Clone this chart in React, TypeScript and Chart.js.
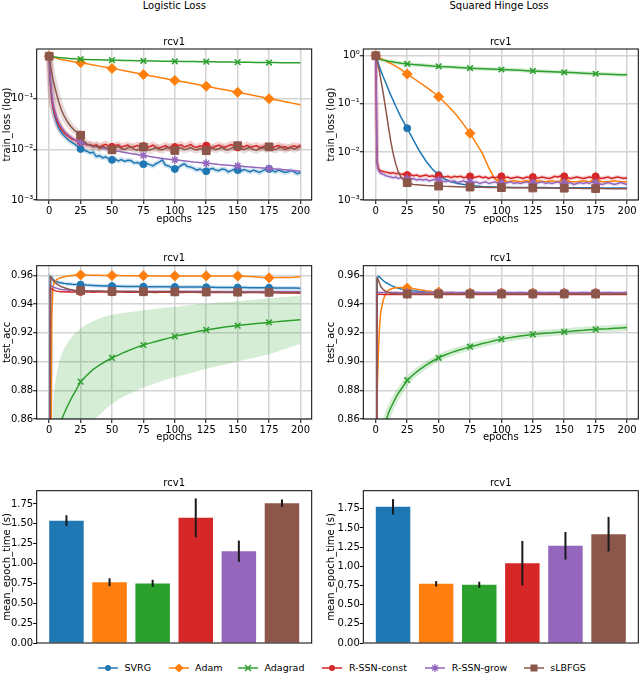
import React, { useEffect, useRef } from "react";
import { Chart, registerables } from "chart.js";
Chart.register(...registerables);

const FONT = "'DejaVu Sans', 'Liberation Sans', sans-serif";
Chart.defaults.font.family = FONT;
Chart.defaults.font.size = 10;
Chart.defaults.color = "#000";

// ---------------- data ----------------
const SERIES = ["SVRG", "Adam", "Adagrad", "R-SSN-const", "R-SSN-grow", "sLBFGS"];

// smooth-curve epochs
const SX = [0, 1, 2, 3, 4, 6, 8, 10, 12, 14, 16, 18, 20,
  25, 30, 35, 40, 45, 50, 55, 60,
  65, 70, 75, 80, 85, 90, 95, 100,
  105, 110, 115, 120, 125, 130, 135, 140,
  145, 150, 155, 160, 165, 170, 175, 180,
  185, 190, 195, 200];
// noisy-curve epochs
const NX = [0, 1, 2, 3, 4, 6, 8, 10, 12, 14, 16, 18, 20,
  22.5, 25, 27.5, 30, 32.5, 35, 37.5, 40,
  42.5, 45, 47.5, 50, 52.5, 55, 57.5, 60,
  62.5, 65, 67.5, 70, 72.5, 75, 77.5, 80,
  82.5, 85, 87.5, 90, 92.5, 95, 97.5, 100,
  102.5, 105, 107.5, 110, 112.5, 115, 117.5, 120,
  122.5, 125, 127.5, 130, 132.5, 135, 137.5, 140,
  142.5, 145, 147.5, 150, 152.5, 155, 157.5, 160,
  162.5, 165, 167.5, 170, 172.5, 175, 177.5, 180,
  182.5, 185, 187.5, 190, 192.5, 195, 197.5, 200];

// Logistic loss: train loss
const TL_SVRG = [0.69, 0.2, 0.1, 0.065, 0.05, 0.033, 0.025, 0.021, 0.0185, 0.0165, 0.0148, 0.0138, 0.0128,
  0.0115, 0.0102, 0.0097, 0.0092, 0.0085, 0.0088, 0.0072, 0.0075,
  0.0068, 0.0071, 0.0064, 0.0062, 0.0064, 0.0059, 0.0063, 0.0058,
  0.0061, 0.0060, 0.0054, 0.0055, 0.0052, 0.0051, 0.0053, 0.0050,
  0.0047, 0.0052, 0.0056, 0.0062, 0.0049, 0.0047, 0.0043, 0.0041,
  0.0043, 0.0048, 0.0052, 0.0046, 0.0045, 0.0042, 0.0039, 0.0041,
  0.0038, 0.0037, 0.0040, 0.0042, 0.0039, 0.0038, 0.0041, 0.0040,
  0.0036, 0.0038, 0.0041, 0.0039, 0.0037, 0.0040, 0.0038, 0.0036,
  0.0039, 0.0037, 0.0035, 0.0038, 0.0040, 0.0041, 0.0038, 0.0036,
  0.0039, 0.0037, 0.0035, 0.0036, 0.0038, 0.0036, 0.0033, 0.0035];
const TL_ADAM = [0.69, 0.68, 0.67, 0.66, 0.65, 0.63, 0.61, 0.59, 0.58, 0.565, 0.555, 0.545, 0.535,
  0.515, 0.49, 0.465, 0.44, 0.417, 0.395, 0.375, 0.355,
  0.337, 0.318, 0.30, 0.285, 0.27, 0.256, 0.243, 0.23,
  0.219, 0.208, 0.197, 0.186, 0.176, 0.167, 0.158, 0.15,
  0.142, 0.134, 0.127, 0.12, 0.113, 0.107, 0.1, 0.095,
  0.09, 0.085, 0.08, 0.076];
const TL_ADAGRAD = [0.69, 0.68, 0.675, 0.67, 0.665, 0.655, 0.645, 0.64, 0.635, 0.628, 0.622, 0.617, 0.612,
  0.602, 0.595, 0.59, 0.585, 0.58, 0.576, 0.572, 0.569,
  0.566, 0.563, 0.56, 0.557, 0.554, 0.551, 0.549, 0.547,
  0.545, 0.543, 0.541, 0.539, 0.537, 0.535, 0.533, 0.531,
  0.529, 0.527, 0.525, 0.523, 0.521, 0.519, 0.517, 0.516,
  0.514, 0.513, 0.511, 0.51];
const TL_RSSN_CONST = [0.69, 0.19, 0.1, 0.07, 0.055, 0.038, 0.029, 0.024, 0.021, 0.019, 0.0175, 0.016, 0.0152,
  0.0145, 0.014, 0.0128, 0.0122, 0.0125, 0.0118, 0.0123, 0.0112,
  0.0119, 0.0126, 0.0115, 0.0112, 0.0118, 0.0123, 0.0110, 0.0117,
  0.0121, 0.0109, 0.0113, 0.0120, 0.0111, 0.0116, 0.0108, 0.0114,
  0.0121, 0.0110, 0.0105, 0.0112, 0.0119, 0.0107, 0.0114, 0.0111,
  0.0118, 0.0123, 0.0112, 0.0116, 0.0125, 0.0113, 0.0109, 0.0117,
  0.0112, 0.0119, 0.0114, 0.0108, 0.0115, 0.0121, 0.0113, 0.0110,
  0.0118, 0.0124, 0.0113, 0.0109, 0.0115, 0.0112, 0.0120, 0.0110,
  0.0114, 0.0119, 0.0108, 0.0113, 0.0117, 0.0111, 0.0106, 0.0114,
  0.0119, 0.0109, 0.0113, 0.0106, 0.0112, 0.0118, 0.0110, 0.0123];
const TL_RSSN_GROW = [0.69, 0.25, 0.13, 0.085, 0.065, 0.043, 0.033, 0.027, 0.023, 0.0205, 0.0185, 0.017, 0.0158,
  0.0138, 0.0125, 0.0115, 0.0108, 0.0102, 0.0097, 0.0092, 0.0087,
  0.0083, 0.0079, 0.0076, 0.0072, 0.0069, 0.0066, 0.0064, 0.0062,
  0.0060, 0.0058, 0.0056, 0.0055, 0.0053, 0.0052, 0.0050, 0.0049,
  0.0048, 0.0047, 0.0046, 0.0045, 0.0044, 0.0043, 0.0042, 0.0041,
  0.0040, 0.0039, 0.0038, 0.0037];
const TL_SLBFGS = [0.69, 0.45, 0.32, 0.24, 0.19, 0.12, 0.08, 0.058, 0.045, 0.037, 0.031, 0.027, 0.024,
  0.0215, 0.019, 0.0145, 0.0128, 0.0121, 0.0112, 0.0118, 0.0105,
  0.0113, 0.0109, 0.0102, 0.0098, 0.0106, 0.0113, 0.0104, 0.0099,
  0.0107, 0.0112, 0.0101, 0.0095, 0.0103, 0.0111, 0.0104, 0.0096,
  0.0102, 0.0109, 0.0100, 0.0097, 0.0105, 0.0110, 0.0099, 0.0095,
  0.0103, 0.0108, 0.0098, 0.0102, 0.0109, 0.0101, 0.0097, 0.0104,
  0.0100, 0.0094, 0.0101, 0.0107, 0.0099, 0.0103, 0.0110, 0.0100,
  0.0097, 0.0106, 0.0112, 0.0118, 0.0104, 0.0098, 0.0105, 0.0109,
  0.0099, 0.0096, 0.0104, 0.0108, 0.0101, 0.0112, 0.0103, 0.0098,
  0.0106, 0.0110, 0.0099, 0.0104, 0.0109, 0.0101, 0.0107, 0.0115];

// Squared hinge loss: train loss
const TR_SVRG = [1.0, 0.85, 0.7, 0.58, 0.49, 0.36, 0.27, 0.2, 0.15, 0.115, 0.088, 0.068, 0.053,
  0.031, 0.0175, 0.0102, 0.0064, 0.0044, 0.0033, 0.0027, 0.0024,
  0.0022, 0.0021, 0.002, 0.00195, 0.0019, 0.00188, 0.00186, 0.00185,
  0.00184, 0.00183, 0.00183, 0.00182, 0.00182, 0.00181, 0.00181, 0.0018,
  0.0018, 0.0018, 0.0018, 0.00179, 0.00179, 0.00179, 0.00178, 0.00178,
  0.00178, 0.00177, 0.00177, 0.00177];
const TR_ADAM = [1.0, 0.97, 0.94, 0.91, 0.88, 0.83, 0.78, 0.73, 0.69, 0.645, 0.6, 0.56, 0.52,
  0.415, 0.34, 0.275, 0.225, 0.18, 0.14, 0.105, 0.077,
  0.055, 0.037, 0.0243, 0.015, 0.0092, 0.0046, 0.0027, 0.0025,
  0.0024, 0.0025, 0.0024, 0.0025, 0.0024, 0.0025, 0.0024, 0.0025,
  0.0024, 0.0025, 0.0024, 0.0024, 0.0025, 0.0024, 0.0025, 0.0024,
  0.0024, 0.0025, 0.0024, 0.0024];
const TR_ADAGRAD = [1.0, 0.88, 0.86, 0.845, 0.83, 0.81, 0.79, 0.77, 0.755, 0.74, 0.725, 0.715, 0.7,
  0.675, 0.655, 0.64, 0.625, 0.61, 0.6, 0.59, 0.58,
  0.57, 0.56, 0.55, 0.543, 0.536, 0.529, 0.523, 0.517,
  0.51, 0.503, 0.496, 0.489, 0.482, 0.476, 0.47, 0.464,
  0.458, 0.452, 0.446, 0.44, 0.434, 0.428, 0.422, 0.417,
  0.412, 0.408, 0.404, 0.40];
const TR_RSSN_CONST = [1.0, 0.0065, 0.0046, 0.0042, 0.0040, 0.0039, 0.0038, 0.0037, 0.0036, 0.0037, 0.0035, 0.0036, 0.0034,
  0.0035, 0.0033, 0.0034, 0.0032, 0.0033, 0.0031, 0.0032, 0.0033,
  0.0031, 0.0032, 0.0030, 0.0032, 0.0031, 0.0030, 0.0031, 0.0029,
  0.0031, 0.0030, 0.0031, 0.0029, 0.0030, 0.0031, 0.0029, 0.0030,
  0.0031, 0.0029, 0.0030, 0.0028, 0.0030, 0.0029, 0.0030, 0.0031,
  0.0029, 0.0030, 0.0028, 0.0029, 0.0030, 0.0029, 0.0028, 0.0030,
  0.0029, 0.0030, 0.0028, 0.0029, 0.0030, 0.0029, 0.0028, 0.0029,
  0.0031, 0.0030, 0.0032, 0.0031, 0.0029, 0.0028, 0.0029, 0.0030,
  0.0029, 0.0028, 0.0029, 0.0030, 0.0029, 0.0031, 0.0029, 0.0028,
  0.0029, 0.0030, 0.0028, 0.0029, 0.0030, 0.0029, 0.0028, 0.0029];
const TR_RSSN_GROW = [1.0, 0.0055, 0.0042, 0.0038, 0.0036, 0.0034, 0.0032, 0.0031, 0.0030, 0.0029, 0.0030, 0.0028, 0.0029,
  0.0027, 0.0028, 0.0027, 0.0028, 0.0026, 0.0027, 0.0026, 0.0027,
  0.0025, 0.0026, 0.0027, 0.0026, 0.0025, 0.0024, 0.0025, 0.0024,
  0.0025, 0.0023, 0.0024, 0.0025, 0.0023, 0.0024, 0.0023, 0.0024,
  0.0022, 0.0023, 0.0024, 0.0022, 0.0023, 0.0024, 0.0022, 0.0023,
  0.0022, 0.0023, 0.0024, 0.0022, 0.0023, 0.0022, 0.0023, 0.0024,
  0.0022, 0.0023, 0.0022, 0.0023, 0.0024, 0.0022, 0.0023, 0.0022,
  0.0023, 0.0024, 0.0022, 0.0023, 0.0022, 0.0023, 0.0021, 0.0022,
  0.0023, 0.0022, 0.0023, 0.0022, 0.0024, 0.0023, 0.0022, 0.0021,
  0.0022, 0.0023, 0.0022, 0.0021, 0.0022, 0.0023, 0.0022, 0.0021];
const TR_SLBFGS = [1.0, 0.8, 0.6, 0.45, 0.32, 0.16, 0.075, 0.034, 0.016, 0.0088, 0.0055, 0.0038, 0.003,
  0.0023, 0.0021, 0.00205, 0.002, 0.00197, 0.00195, 0.00192, 0.0019,
  0.00188, 0.00187, 0.00186, 0.00185, 0.00184, 0.00183, 0.00182, 0.00181,
  0.0018, 0.0018, 0.00179, 0.00179, 0.00178, 0.00178, 0.00177, 0.00177,
  0.00176, 0.00176, 0.00175, 0.00175, 0.00174, 0.00174, 0.00173, 0.00173,
  0.00172, 0.00172, 0.00171, 0.00171];

// Logistic loss: test accuracy
const ML_SVRG = [0.5, 0.959, 0.9585, 0.957, 0.9562, 0.9555, 0.955, 0.9547, 0.9544, 0.9542, 0.954, 0.9538, 0.9537,
  0.9535, 0.9532, 0.953, 0.9528, 0.9526, 0.9525, 0.9524, 0.9523,
  0.9523, 0.9522, 0.9521, 0.9521, 0.952, 0.952, 0.952, 0.9519,
  0.9519, 0.9518, 0.9518, 0.9518, 0.9517, 0.9517, 0.9516, 0.9516,
  0.9516, 0.9515, 0.9515, 0.9514, 0.9514, 0.9513, 0.9513, 0.9512,
  0.9512, 0.9511, 0.9511, 0.951];
const ML_ADAM = [0.5, 0.7, 0.93, 0.952, 0.955, 0.957, 0.958, 0.9585, 0.959, 0.9593, 0.9596, 0.9598, 0.96,
  0.9603, 0.9602, 0.9601, 0.96, 0.9599, 0.9598, 0.9598, 0.9597,
  0.9597, 0.9597, 0.9597, 0.9597, 0.9596, 0.9596, 0.9596, 0.9596,
  0.9596, 0.9596, 0.9596, 0.9596, 0.9596, 0.9596, 0.9596, 0.9596,
  0.9596, 0.9595, 0.9594, 0.9592, 0.9589, 0.9585, 0.9583, 0.9584,
  0.9585, 0.9585, 0.9586, 0.959];
const ML_ADAGRAD = [0.5, 0.6, 0.7, 0.76, 0.79, 0.825, 0.848, 0.86, 0.864, 0.868, 0.8715, 0.875, 0.878,
  0.886, 0.8905, 0.8945, 0.8975, 0.9002, 0.9025, 0.9045, 0.9065,
  0.9083, 0.91, 0.9115, 0.9128, 0.914, 0.9152, 0.9163, 0.9175,
  0.9185, 0.9194, 0.9203, 0.9212, 0.922, 0.9227, 0.9234, 0.924,
  0.9245, 0.925, 0.9256, 0.926, 0.9264, 0.9268, 0.9272, 0.9276,
  0.928, 0.9284, 0.9287, 0.929];
const ML_ADAGRAD_HI = [0.5, 0.6, 0.75, 0.87, 0.88, 0.892, 0.9, 0.905, 0.909, 0.912, 0.915, 0.917, 0.919,
  0.923, 0.926, 0.928, 0.93, 0.9315, 0.9325, 0.9333, 0.934,
  0.9345, 0.935, 0.9357, 0.9363, 0.9368, 0.9373, 0.9377, 0.938,
  0.9385, 0.939, 0.9395, 0.94, 0.9403, 0.9406, 0.941, 0.9413,
  0.9416, 0.942, 0.9424, 0.9428, 0.9432, 0.9436, 0.944, 0.9444,
  0.9448, 0.9451, 0.9454, 0.9456];
const ML_ADAGRAD_LO = [0.5, 0.5, 0.5, 0.55, 0.6, 0.66, 0.7, 0.73, 0.755, 0.775, 0.79, 0.805, 0.815,
  0.838, 0.85, 0.858, 0.863, 0.867, 0.8705, 0.8735, 0.876,
  0.878, 0.88, 0.882, 0.8835, 0.885, 0.8865, 0.888, 0.889,
  0.8902, 0.8914, 0.8926, 0.8938, 0.895, 0.896, 0.897, 0.898,
  0.899, 0.9, 0.901, 0.902, 0.903, 0.904, 0.905, 0.9065,
  0.908, 0.9095, 0.911, 0.912];
const ML_RSSN_CONST = [0.5, 0.951, 0.9505, 0.95, 0.9495, 0.949, 0.9488, 0.9486, 0.9485, 0.9484, 0.9486, 0.9483, 0.9485,
  0.9484, 0.9486, 0.9483, 0.9485, 0.9484, 0.9482, 0.9485, 0.9483,
  0.9484, 0.9482, 0.9484, 0.9483, 0.9481, 0.9484, 0.9482, 0.9483,
  0.9481, 0.9483, 0.9482, 0.948, 0.9483, 0.9481, 0.9482, 0.948,
  0.9482, 0.9481, 0.9479, 0.9481, 0.948, 0.9478, 0.948, 0.9479,
  0.9477, 0.9479, 0.9477, 0.9475];
const ML_RSSN_GROW = [0.5, 0.953, 0.9525, 0.952, 0.9515, 0.951, 0.9505, 0.9502, 0.95, 0.9498, 0.9496, 0.9495, 0.9494,
  0.9493, 0.9492, 0.9491, 0.9491, 0.949, 0.949, 0.949, 0.9489,
  0.9489, 0.9489, 0.9489, 0.9489, 0.9489, 0.9489, 0.9489, 0.9489,
  0.9489, 0.9489, 0.9489, 0.9489, 0.9488, 0.9488, 0.9488, 0.9488,
  0.9488, 0.9488, 0.9488, 0.9488, 0.9488, 0.9488, 0.9488, 0.9488,
  0.9488, 0.9488, 0.9488, 0.9488];
const ML_SLBFGS = [0.5, 0.959, 0.958, 0.9565, 0.9555, 0.954, 0.9528, 0.952, 0.9513, 0.9508, 0.9503, 0.95, 0.9497,
  0.9494, 0.9491, 0.949, 0.9489, 0.9488, 0.9488, 0.9487, 0.9487,
  0.9487, 0.9486, 0.9486, 0.9486, 0.9486, 0.9485, 0.9485, 0.9485,
  0.9485, 0.9485, 0.9484, 0.9484, 0.9484, 0.9484, 0.9484, 0.9483,
  0.9483, 0.9483, 0.9483, 0.9483, 0.9482, 0.9482, 0.9482, 0.9482,
  0.9481, 0.9481, 0.948, 0.948];

// Squared hinge loss: test accuracy
const MR_SVRG = [0.5, 0.957, 0.9595, 0.959, 0.958, 0.9562, 0.955, 0.954, 0.953, 0.9522, 0.9515, 0.951, 0.9505,
  0.95, 0.9493, 0.9488, 0.9484, 0.9481, 0.948, 0.9479, 0.9478,
  0.9478, 0.9478, 0.9478, 0.9478, 0.9478, 0.9478, 0.9478, 0.9478,
  0.9478, 0.9478, 0.9478, 0.9478, 0.9478, 0.9478, 0.9478, 0.9478,
  0.9478, 0.9478, 0.9478, 0.9478, 0.9478, 0.9478, 0.9478, 0.9478,
  0.9478, 0.9478, 0.9478, 0.9478];
const MR_ADAM = [0.5, 0.875, 0.905, 0.925, 0.935, 0.943, 0.9475, 0.9495, 0.9505, 0.951, 0.9514, 0.9516, 0.9516,
  0.9512, 0.9506, 0.95, 0.9493, 0.9488, 0.9484, 0.9481, 0.948,
  0.9479, 0.9479, 0.9478, 0.9478, 0.9478, 0.9478, 0.9478, 0.9478,
  0.9478, 0.9478, 0.9478, 0.9478, 0.9478, 0.9478, 0.9478, 0.9478,
  0.9478, 0.9478, 0.9478, 0.9478, 0.9478, 0.9478, 0.9478, 0.9478,
  0.9478, 0.9478, 0.9478, 0.9478];
const MR_ADAGRAD = [0.5, 0.6, 0.7, 0.77, 0.81, 0.84, 0.858, 0.864, 0.868, 0.8715, 0.875, 0.878, 0.8805,
  0.887, 0.891, 0.8945, 0.8975, 0.9002, 0.9026, 0.9045, 0.9062,
  0.9077, 0.909, 0.9103, 0.9114, 0.9125, 0.9135, 0.9146, 0.9156,
  0.9163, 0.917, 0.9177, 0.9183, 0.9189, 0.9193, 0.9197, 0.92,
  0.9204, 0.9207, 0.921, 0.9214, 0.9217, 0.9221, 0.9224, 0.9227,
  0.9229, 0.9232, 0.9234, 0.9236];
const MR_RSSN_CONST = [0.5, 0.9468, 0.9467, 0.9468, 0.9469, 0.9467, 0.9468, 0.9466, 0.9468, 0.9467, 0.9469, 0.9467, 0.9468,
  0.9467, 0.9468, 0.9466, 0.9468, 0.9467, 0.9469, 0.9467, 0.9468,
  0.9466, 0.9468, 0.9467, 0.9469, 0.9467, 0.9468, 0.9466, 0.9468,
  0.9467, 0.9468, 0.9466, 0.9468, 0.9467, 0.9469, 0.9467, 0.9468,
  0.9466, 0.9468, 0.9467, 0.9468, 0.9466, 0.9468, 0.9467, 0.9469,
  0.9467, 0.9468, 0.9466, 0.9467];
const MR_RSSN_GROW = [0.5, 0.9481, 0.948, 0.9482, 0.9481, 0.948, 0.9482, 0.9481, 0.9483, 0.948, 0.9482, 0.9481, 0.948,
  0.9482, 0.9481, 0.9483, 0.948, 0.9482, 0.9481, 0.948, 0.9482,
  0.9481, 0.9483, 0.948, 0.9482, 0.9481, 0.948, 0.9482, 0.9481,
  0.9483, 0.948, 0.9482, 0.9481, 0.948, 0.9482, 0.9481, 0.9483,
  0.948, 0.9482, 0.9481, 0.948, 0.9482, 0.9481, 0.9483, 0.948,
  0.9482, 0.9481, 0.948, 0.9482];
const MR_SLBFGS = [0.5, 0.958, 0.957, 0.9545, 0.952, 0.95, 0.9488, 0.948, 0.9475, 0.9472, 0.9471, 0.947, 0.947,
  0.947, 0.947, 0.947, 0.947, 0.947, 0.947, 0.947, 0.947,
  0.947, 0.947, 0.947, 0.947, 0.947, 0.947, 0.947, 0.947,
  0.947, 0.947, 0.947, 0.947, 0.947, 0.947, 0.947, 0.947,
  0.947, 0.947, 0.947, 0.947, 0.947, 0.947, 0.947, 0.947,
  0.947, 0.947, 0.947, 0.947];

// mean epoch time (bars)
const BAR_POS = [0, 1, 2, 3, 4, 5];
const BL_TIME = [1.54, 0.765, 0.75, 1.575, 1.155, 1.76];
const BL_ERR = [0.068, 0.05, 0.045, 0.245, 0.134, 0.047];
const BR_TIME = [1.776, 0.772, 0.759, 1.041, 1.268, 1.419];
const BR_ERR = [0.1, 0.035, 0.04, 0.29, 0.18, 0.225];

// tick values
const EPOCH_TICKS = [0, 25, 50, 75, 100, 125, 150, 175, 200];
const ACC_TICKS = [0.86, 0.88, 0.9, 0.92, 0.94, 0.96];
const LOG_TICKS = [0.001, 0.01, 0.1, 1];
const TIME_TICKS = [0, 0.25, 0.5, 0.75, 1, 1.25, 1.5, 1.75];

// ---------------- styles ----------------
const STYLES = [
  { color: "#1f77b4", marker: "circle", r: 3.5, bw: 1 },
  { color: "#ff7f0e", marker: "rectRot", r: 5, bw: 1 },
  { color: "#2ca02c", marker: "crossRot", r: 4, bw: 1.5 },
  { color: "#d62728", marker: "circle", r: 3.5, bw: 1 },
  { color: "#9467bd", marker: "star", r: 4, bw: 1.5 },
  { color: "#8c564b", marker: "rect", r: 5.5, bw: 1 },
];
const GRID = "#d4d4d4";

function rgba(hex: string, a: number) {
  const n = parseInt(hex.slice(1), 16);
  return `rgba(${(n >> 16) & 255},${(n >> 8) & 255},${n & 255},${a})`;
}
const pts = (xs: number[], ys: number[]) => xs.map((x, i) => ({ x, y: ys[i] }));
const SUP: Record<string, string> = { "-": "\u207b", "0": "\u2070", "1": "\u00b9", "2": "\u00b2", "3": "\u00b3", "4": "\u2074" };
const logLabel = (v: number) => "10" + String(Math.round(Math.log10(v))).split("").map((c) => SUP[c] || c).join("");

type Geo = { cl: number; ct: number; cw: number; ch: number; al: number; at: number; ar: number; ab: number; ytp: number };

const LEFT = { cl: 0, cw: 320, al: 36.7, ar: 311.7, ytp: 1 };
const RIGHT = { cl: 320, cw: 320, al: 363.3, ar: 638.3, ytp: 5.5 };
const ROW1 = { ct: 22, ch: 204, at: 49, ab: 200 };
const ROW2 = { ct: 238, ch: 206, at: 265.7, ab: 419 };
const ROW3 = { ct: 462, ch: 188, at: 490.7, ab: 643 };

const framePlugin = {
  id: "frame",
  afterDraw(chart: any) {
    const { ctx, chartArea: a } = chart;
    ctx.save();
    ctx.strokeStyle = "#000";
    ctx.lineWidth = 1;
    ctx.strokeRect(a.left, a.top, a.right - a.left, a.bottom - a.top);
    ctx.restore();
  },
};

function makeErrorBars(errs: number[]) {
  return {
    id: "errorBars",
    afterDatasetsDraw(chart: any) {
      const { ctx } = chart;
      const meta = chart.getDatasetMeta(0);
      const ys = chart.scales.y;
      const vals = chart.data.datasets[0].data;
      ctx.save();
      ctx.strokeStyle = "#1a1a1a";
      ctx.lineWidth = 2;
      meta.data.forEach((el: any, i: number) => {
        const v = vals[i].y;
        ctx.beginPath();
        ctx.moveTo(el.x, ys.getPixelForValue(v - errs[i]));
        ctx.lineTo(el.x, ys.getPixelForValue(v + errs[i]));
        ctx.stroke();
      });
      ctx.restore();
    },
  };
}

function baseOptions(geo: Geo, scales: any) {
  return {
    responsive: false,
    maintainAspectRatio: false,
    animation: false,
    devicePixelRatio: 1,
    events: [],
    layout: { padding: { left: 0, top: 0, bottom: 0, right: geo.cl + geo.cw - geo.ar }, autoPadding: false },
    plugins: {
      legend: { display: false },
      tooltip: { enabled: false },
      title: {
        display: true, text: "rcv1", fullSize: false, color: "#000",
        font: { size: 10, weight: "normal", family: FONT },
        padding: { top: geo.at - geo.ct - 13, bottom: 1 },
      },
    },
    scales,
  };
}

function yAxisCommon(geo: Geo, title: string) {
  return {
    afterFit: (s: any) => { s.width = geo.al - geo.cl; s.paddingTop = 0; s.paddingBottom = 0; },
    border: { display: false },
    title: { display: true, text: title, color: "#000", font: { size: 10, family: FONT }, padding: { top: geo.ytp, bottom: 0 } },
  };
}

function xEpochAxis(geo: Geo) {
  return {
    type: "linear", min: -9.95, max: 208.95,
    afterBuildTicks: (s: any) => { s.ticks = EPOCH_TICKS.map((v) => ({ value: v })); },
    afterFit: (s: any) => { s.height = geo.ct + geo.ch - geo.ab; s.paddingLeft = 0; s.paddingRight = 0; },
    ticks: { autoSkip: false, maxRotation: 0, padding: 1, color: "#000", font: { size: 10 }, callback: (v: any) => String(v) },
    grid: { color: GRID, lineWidth: 1.5, tickLength: 4, tickColor: "#000", tickWidth: 1 },
    border: { display: false },
    title: { display: true, text: "epochs", color: "#000", font: { size: 10, family: FONT }, padding: { top: 0, bottom: 1 } },
  };
}

type LineSpec = { xs: number[]; ys: number[]; halo?: number };
type Band = { xs: number[]; lo: number[]; hi: number[] };

const markerAt = (r: number) => (ctx: any) => {
  const x = ctx.raw && ctx.raw.x;
  return x !== undefined && x % 25 === 0 && x < 200 ? r : 0;
};

function makeLine(geo: Geo, series: LineSpec[], yScale: any, yTitle: string, band?: Band) {
  const datasets: any[] = [];
  if (band) {
    datasets.push({ data: pts(band.xs, band.lo), borderWidth: 0, pointRadius: 0, fill: false, order: 100 });
    datasets.push({ data: pts(band.xs, band.hi), borderWidth: 0, pointRadius: 0, fill: "-1", backgroundColor: rgba(STYLES[2].color, 0.2), order: 99 });
  }
  series.forEach((s, i) => {
    if (s.halo) {
      datasets.push({ data: pts(s.xs, s.ys), borderColor: rgba(STYLES[i].color, 0.2), borderWidth: s.halo, pointRadius: 0, fill: false, order: 50 - i });
    }
  });
  series.forEach((s, i) => {
    const st = STYLES[i];
    datasets.push({
      label: SERIES[i], data: pts(s.xs, s.ys), borderColor: st.color, backgroundColor: st.color, borderWidth: 1.5,
      pointStyle: st.marker, pointRadius: markerAt(st.r), pointHoverRadius: 0,
      pointBackgroundColor: st.color, pointBorderColor: st.color, pointBorderWidth: st.bw,
      fill: false, tension: 0, order: 10 - i,
    });
  });
  return {
    type: "line",
    data: { datasets },
    options: baseOptions(geo, { x: xEpochAxis(geo), y: { ...yScale, ...yAxisCommon(geo, yTitle) } }),
    plugins: [framePlugin],
  };
}

const Y_TICKS = { autoSkip: false, padding: 0, color: "#000", font: { size: 10 } };
const Y_GRID = { color: GRID, lineWidth: 1.5, tickLength: 3.5, tickColor: "#000", tickWidth: 1 };

function logY(max: number) {
  return {
    type: "logarithmic", min: 0.001, max,
    afterBuildTicks: (s: any) => { s.ticks = LOG_TICKS.filter((v) => v >= s.min && v <= s.max).map((v) => ({ value: v })); },
    ticks: { ...Y_TICKS, callback: (v: any) => logLabel(Number(v)) },
    grid: Y_GRID,
  };
}
function accY() {
  return {
    type: "linear", min: 0.86, max: 0.9667,
    afterBuildTicks: (s: any) => { s.ticks = ACC_TICKS.map((v) => ({ value: v })); },
    ticks: { ...Y_TICKS, callback: (v: any) => Number(v).toFixed(2) },
    grid: Y_GRID,
  };
}

function makeBars(geo: Geo, times: number[], errs: number[], ymax: number) {
  return {
    type: "bar",
    data: {
      datasets: [{
        data: pts(BAR_POS, times), backgroundColor: STYLES.map((s) => s.color),
        borderWidth: 0, categoryPercentage: 1, barPercentage: 0.8,
      }],
    },
    options: baseOptions(geo, {
      x: {
        type: "linear", min: -0.69, max: 5.69, offset: false,
        afterFit: (s: any) => { s.height = geo.ct + geo.ch - geo.ab; s.paddingLeft = 0; s.paddingRight = 0; },
        ticks: { display: false }, grid: { display: false, offset: false }, border: { display: false },
      },
      y: {
        type: "linear", min: 0, max: ymax,
        afterBuildTicks: (s: any) => { s.ticks = TIME_TICKS.map((v) => ({ value: v })); },
        ticks: { ...Y_TICKS, callback: (v: any) => Number(v).toFixed(2) },
        grid: { drawOnChartArea: false, tickLength: 3.5, tickColor: "#000", tickWidth: 1 },
        ...yAxisCommon(geo, "mean_epoch_time (s)"),
      },
    }),
    plugins: [framePlugin, makeErrorBars(errs)],
  };
}

const G = (col: any, row: any): Geo => ({ ...col, ...row });

const PANELS: { key: string; geo: Geo; make: (g: Geo) => any }[] = [
  {
    key: "tl", geo: G(LEFT, ROW1),
    make: (g) => makeLine(g, [
      { xs: NX, ys: TL_SVRG, halo: 5 }, { xs: SX, ys: TL_ADAM }, { xs: SX, ys: TL_ADAGRAD },
      { xs: NX, ys: TL_RSSN_CONST, halo: 7 }, { xs: SX, ys: TL_RSSN_GROW }, { xs: NX, ys: TL_SLBFGS, halo: 7 },
    ], logY(0.958), "train_loss (log)"),
  },
  {
    key: "tr", geo: G(RIGHT, ROW1),
    make: (g) => makeLine(g, [
      { xs: SX, ys: TR_SVRG }, { xs: SX, ys: TR_ADAM }, { xs: SX, ys: TR_ADAGRAD, halo: 4 },
      { xs: NX, ys: TR_RSSN_CONST, halo: 4 }, { xs: NX, ys: TR_RSSN_GROW, halo: 4 }, { xs: SX, ys: TR_SLBFGS },
    ], logY(1.38), "train_loss (log)"),
  },
  {
    key: "ml", geo: G(LEFT, ROW2),
    make: (g) => makeLine(g, [
      { xs: SX, ys: ML_SVRG, halo: 4 }, { xs: SX, ys: ML_ADAM }, { xs: SX, ys: ML_ADAGRAD },
      { xs: SX, ys: ML_RSSN_CONST }, { xs: SX, ys: ML_RSSN_GROW }, { xs: SX, ys: ML_SLBFGS },
    ], accY(), "test_acc", { xs: SX, lo: ML_ADAGRAD_LO, hi: ML_ADAGRAD_HI }),
  },
  {
    key: "mr", geo: G(RIGHT, ROW2),
    make: (g) => makeLine(g, [
      { xs: SX, ys: MR_SVRG }, { xs: SX, ys: MR_ADAM }, { xs: SX, ys: MR_ADAGRAD, halo: 7 },
      { xs: SX, ys: MR_RSSN_CONST }, { xs: SX, ys: MR_RSSN_GROW }, { xs: SX, ys: MR_SLBFGS },
    ], accY(), "test_acc"),
  },
  { key: "bl", geo: G(LEFT, ROW3), make: (g) => makeBars(g, BL_TIME, BL_ERR, 1.917) },
  { key: "br", geo: G(RIGHT, ROW3), make: (g) => makeBars(g, BR_TIME, BR_ERR, 1.986) },
];

function Panel({ geo, make }: { geo: Geo; make: (g: Geo) => any }) {
  const ref = useRef<HTMLCanvasElement>(null);
  useEffect(() => {
    const chart = new Chart(ref.current as HTMLCanvasElement, make(geo));
    return () => chart.destroy();
  }, []);
  return (
    <canvas ref={ref} width={geo.cw} height={geo.ch}
      style={{ position: "absolute", left: geo.cl, top: geo.ct, width: geo.cw, height: geo.ch }} />
  );
}

function Marker({ i }: { i: number }) {
  const c = STYLES[i].color;
  const m = STYLES[i].marker;
  if (m === "circle") return <circle cx={10} cy={6} r={3} fill={c} />;
  if (m === "rectRot") return <polygon points="10,1.5 14.5,6 10,10.5 5.5,6" fill={c} />;
  if (m === "crossRot") return <path d="M7,3 L13,9 M13,3 L7,9" stroke={c} strokeWidth={1.5} />;
  if (m === "star") return <path d="M10,2 L10,10 M6,6 L14,6 M7.2,3.2 L12.8,8.8 M12.8,3.2 L7.2,8.8" stroke={c} strokeWidth={1.3} />;
  return <rect x={6.5} y={2.5} width={7} height={7} fill={c} />;
}

const LEGEND_X = [98, 168.6, 238, 322.4, 425.3, 523.7];

export default function App() {
  return (
    <div style={{ position: "absolute", left: 0, top: 0, width: 640, height: 675, background: "#fff", fontFamily: FONT, color: "#000" }}>
      <div style={{ position: "absolute", left: 74.3, top: 0, width: 200, textAlign: "center", fontSize: 10, lineHeight: "12px" }}>Logistic Loss</div>
      <div style={{ position: "absolute", left: 399, top: 0, width: 200, textAlign: "center", fontSize: 10, lineHeight: "12px" }}>Squared Hinge Loss</div>
      {PANELS.map((p) => <Panel key={p.key} geo={p.geo} make={p.make} />)}
      {SERIES.map((name, i) => (
        <div key={name} style={{ position: "absolute", left: LEGEND_X[i], top: 661, height: 14, display: "flex", alignItems: "center", whiteSpace: "nowrap" }}>
          <svg width={20} height={12} style={{ display: "block" }}>
            <line x1={0} y1={6} x2={20} y2={6} stroke={STYLES[i].color} strokeWidth={1.5} />
            <Marker i={i} />
          </svg>
          <span style={{ marginLeft: 6.5, fontSize: 9.5, lineHeight: "14px" }}>{name}</span>
        </div>
      ))}
    </div>
  );
}
